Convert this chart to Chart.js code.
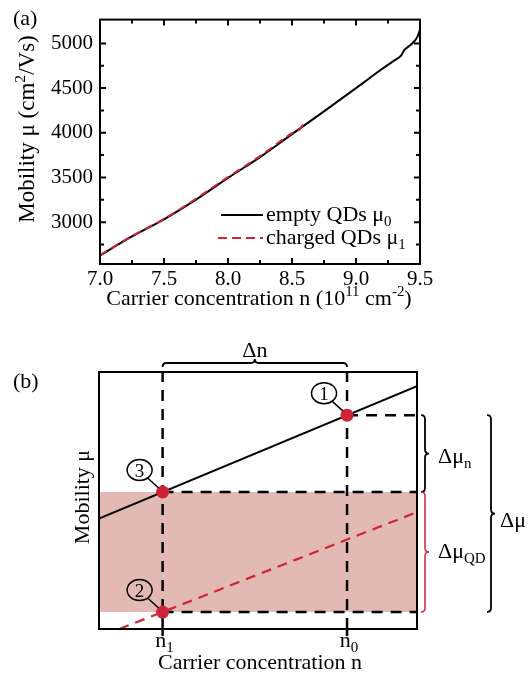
<!DOCTYPE html>
<html>
<head>
<meta charset="utf-8">
<script src="https://cdn.jsdelivr.net/npm/chart.js@4.4.1/dist/chart.umd.min.js"></script>
<style>
html, body { margin: 0; padding: 0; background: #fff; }
#wrap { position: relative; width: 532px; height: 675px; }
canvas { position: absolute; left: 0; }
#chartA { top: 0; }
#chartB { top: 320px; }
</style>
</head>
<body>
<div id="wrap">
  <canvas id="chartA" width="532" height="320"></canvas>
  <canvas id="chartB" width="532" height="355"></canvas>
</div>
<script>
// ---- panel (a) data: mobility vs carrier concentration ----
var nEmpty    = [7.0, 7.25, 7.5, 7.75, 8.0, 8.25, 8.5, 8.75, 9.0, 9.1, 9.2, 9.3, 9.35, 9.38, 9.42, 9.46, 9.48, 9.5];
var muEmpty   = [2628, 2840, 3032, 3252, 3495, 3728, 3985, 4240, 4500, 4605, 4710, 4810, 4860, 4930, 4975, 5030, 5075, 5150];
var nCharged  = [7.0, 7.25, 7.5, 7.75, 8.0, 8.25, 8.5, 8.56, 8.59];
var muCharged = [2632, 2845, 3036, 3262, 3505, 3738, 3995, 4040, 4100];
var xTicksA = [7.0, 7.5, 8.0, 8.5, 9.0, 9.5];
var xMinorA = [7.25, 7.75, 8.25, 8.75, 9.25];
var yTicksA = [3000, 3500, 4000, 4500, 5000];
var yMinorA = [2750, 3250, 3750, 4250, 4750];

// ---- panel (b) data: schematic (arbitrary units 0..10) ----
var nOne = 2.0, nZero = 7.8;
var lineEmptyN   = [0, 10];
var lineEmptyMu  = [4.3, 9.45];
var lineChargedN  = [0.64, 10];
var lineChargedMu = [0, 4.55];
var pointN   = [7.8, 2.0, 2.0];
var pointMu  = [8.32, 0.66, 5.33];
var pointTag = ['1', '2', '3'];

var FAM = '"Liberation Serif", "Times New Roman", serif';
var RED = '#cf2338';

function xy(xs, ys) {
  return xs.map(function (x, i) { return { x: x, y: ys[i] }; });
}

// text with sub/superscripts: parts = [[text, ''|'sub'|'sup'], ...]
function richText(ctx, parts, x, y, size, align) {
  var items = parts.map(function (p) {
    var s = p[1] ? size * 0.68 : size;
    ctx.font = s + 'px ' + FAM;
    return { t: p[0], s: s, dy: p[1] == 'sub' ? size * 0.24 : (p[1] == 'sup' ? -size * 0.4 : 0), w: ctx.measureText(p[0]).width };
  });
  var total = 0;
  items.forEach(function (it) { total += it.w; });
  var cx = align == 'center' ? x - total / 2 : (align == 'right' ? x - total : x);
  ctx.textAlign = 'left';
  ctx.textBaseline = 'alphabetic';
  items.forEach(function (it) {
    ctx.font = it.s + 'px ' + FAM;
    ctx.fillText(it.t, cx, y + it.dy);
    cx += it.w;
  });
}

function braceV(ctx, x, y1, y2, r) {
  var ym = (y1 + y2) / 2;
  ctx.beginPath();
  ctx.moveTo(x - r, y1);
  ctx.quadraticCurveTo(x, y1, x, y1 + r);
  ctx.lineTo(x, ym - r);
  ctx.quadraticCurveTo(x, ym, x + r, ym);
  ctx.quadraticCurveTo(x, ym, x, ym + r);
  ctx.lineTo(x, y2 - r);
  ctx.quadraticCurveTo(x, y2, x - r, y2);
  ctx.stroke();
}

function braceH(ctx, y, x1, x2, r) {
  var xm = (x1 + x2) / 2;
  ctx.beginPath();
  ctx.moveTo(x1, y + r);
  ctx.quadraticCurveTo(x1, y, x1 + r, y);
  ctx.lineTo(xm - r, y);
  ctx.quadraticCurveTo(xm, y, xm, y - r);
  ctx.quadraticCurveTo(xm, y, xm + r, y);
  ctx.lineTo(x2 - r, y);
  ctx.quadraticCurveTo(x2, y, x2, y + r);
  ctx.stroke();
}

// frame, inward ticks, titles and legend for (a)
var decoA = {
  id: 'decoA',
  afterDraw: function (chart) {
    var ctx = chart.ctx, a = chart.chartArea, xs = chart.scales.x, ys = chart.scales.y;
    ctx.save();
    ctx.strokeStyle = '#000';
    ctx.fillStyle = '#000';
    ctx.lineWidth = 2;
    ctx.strokeRect(a.left, a.top, a.right - a.left, a.bottom - a.top);
    ctx.beginPath();
    xTicksA.concat(xMinorA).forEach(function (v, i) {
      var len = i < xTicksA.length ? 6 : 4, px = xs.getPixelForValue(v);
      ctx.moveTo(px, a.bottom); ctx.lineTo(px, a.bottom - len);
      ctx.moveTo(px, a.top); ctx.lineTo(px, a.top + len);
    });
    yTicksA.concat(yMinorA).forEach(function (v, i) {
      var len = i < yTicksA.length ? 6 : 4, py = ys.getPixelForValue(v);
      ctx.moveTo(a.left, py); ctx.lineTo(a.left + len, py);
      ctx.moveTo(a.right, py); ctx.lineTo(a.right - len, py);
    });
    ctx.stroke();

    richText(ctx, [['(a)', '']], 13, 25, 22, 'left');
    richText(ctx, [['Carrier concentration n (10', ''], ['11', 'sup'], [' cm', ''], ['-2', 'sup'], [')', '']], 259, 305, 22, 'center');
    ctx.save();
    ctx.translate(34, 129);
    ctx.rotate(-Math.PI / 2);
    richText(ctx, [['Mobility \u03bc (cm', ''], ['2', 'sup'], ['/Vs)', '']], 0, 0, 23, 'center');
    ctx.restore();

    // legend
    ctx.lineWidth = 2;
    ctx.beginPath(); ctx.moveTo(221, 215); ctx.lineTo(263, 215); ctx.stroke();
    ctx.strokeStyle = RED;
    ctx.setLineDash([9, 5]);
    ctx.beginPath(); ctx.moveTo(218, 238); ctx.lineTo(263, 238); ctx.stroke();
    ctx.setLineDash([]);
    richText(ctx, [['empty QDs \u03bc', ''], ['0', 'sub']], 266, 221, 22, 'left');
    richText(ctx, [['charged QDs \u03bc', ''], ['1', 'sub']], 266, 244, 22, 'left');
    ctx.restore();
  }
};

// frame, guide ticks, braces and labels for (b)
var decoB = {
  id: 'decoB',
  afterDraw: function (chart) {
    var ctx = chart.ctx, a = chart.chartArea, xs = chart.scales.x, ys = chart.scales.y;
    var x1 = xs.getPixelForValue(nOne), x0 = xs.getPixelForValue(nZero);
    ctx.save();
    ctx.strokeStyle = '#000';
    ctx.fillStyle = '#000';
    ctx.lineWidth = 2;
    ctx.strokeRect(a.left, a.top, a.right - a.left, a.bottom - a.top);
    ctx.lineWidth = 2.5;
    ctx.beginPath();
    ctx.moveTo(x1, a.bottom); ctx.lineTo(x1, a.bottom + 7);
    ctx.moveTo(x0, a.bottom); ctx.lineTo(x0, a.bottom + 7);
    ctx.stroke();

    // circled point tags with leaders
    ctx.lineWidth = 1.5;
    pointN.forEach(function (n, i) {
      var px = xs.getPixelForValue(n), py = ys.getPixelForValue(pointMu[i]);
      var cx = px - 23, cy = py - 22;
      ctx.beginPath();
      ctx.ellipse(cx, cy, 12.5, 10.5, 0, 0, Math.PI * 2);
      ctx.stroke();
      ctx.beginPath();
      ctx.moveTo(cx + 8, cy + 8); ctx.lineTo(px - 4, py - 4);
      ctx.stroke();
      richText(ctx, [[pointTag[i], '']], cx, cy + 6.5, 19, 'center');
    });

    // braces
    var yP1 = ys.getPixelForValue(pointMu[0]), yP2 = ys.getPixelForValue(pointMu[1]), yP3 = ys.getPixelForValue(pointMu[2]);
    ctx.lineWidth = 1.8;
    braceH(ctx, a.top - 9, x1, x0, 4);
    richText(ctx, [['\u0394n', '']], (x1 + x0) / 2, a.top - 15, 22, 'center');
    braceV(ctx, a.right + 8, yP1, yP3, 4);
    braceV(ctx, a.right + 74, yP1, yP2, 4);
    ctx.strokeStyle = RED;
    ctx.lineWidth = 1.5;
    braceV(ctx, a.right + 8, yP3, yP2, 4);

    richText(ctx, [['\u0394\u03bc', ''], ['n', 'sub']], a.right + 21, 143, 22, 'left');
    richText(ctx, [['\u0394\u03bc', ''], ['QD', 'sub']], a.right + 21, 238, 22, 'left');
    richText(ctx, [['\u0394\u03bc', '']], a.right + 83, 207, 22, 'left');

    richText(ctx, [['(b)', '']], 13, 68, 22, 'left');
    richText(ctx, [['n', ''], ['1', 'sub']], x1 + 2, 327, 22, 'center');
    richText(ctx, [['n', ''], ['0', 'sub']], x0 + 2, 327, 22, 'center');
    richText(ctx, [['Carrier concentration n', '']], 260, 349, 22, 'center');
    ctx.save();
    ctx.translate(89, 177);
    ctx.rotate(-Math.PI / 2);
    richText(ctx, [['Mobility \u03bc', '']], 0, 0, 22, 'center');
    ctx.restore();
    ctx.restore();
  }
};

var tickFont = { family: FAM, size: 21 };

new Chart(document.getElementById('chartA'), {
  type: 'line',
  data: {
    datasets: [
      { label: 'empty QDs', data: xy(nEmpty, muEmpty), borderColor: '#000', borderWidth: 2,
        pointRadius: 0, cubicInterpolationMode: 'monotone', order: 2 },
      { label: 'charged QDs', data: xy(nCharged, muCharged), borderColor: RED, borderWidth: 2,
        borderDash: [8, 5], pointRadius: 0, cubicInterpolationMode: 'monotone', order: 1 }
    ]
  },
  options: {
    responsive: false,
    animation: false,
    events: [],
    layout: { padding: { left: 0, top: 7, right: 112, bottom: 0 } },
    plugins: { legend: { display: false }, tooltip: { enabled: false } },
    scales: {
      x: {
        type: 'linear', min: 7, max: 9.5,
        afterBuildTicks: function (s) { s.ticks = xTicksA.map(function (v) { return { value: v }; }); },
        afterFit: function (s) { s.height = 56; },
        grid: { display: false, drawTicks: false },
        border: { display: false },
        ticks: { font: tickFont, color: '#000', padding: 3, maxRotation: 0, autoSkip: false,
                 callback: function (v) { return Number(v).toFixed(1); } }
      },
      y: {
        type: 'linear', min: 2532, max: 5266,
        afterBuildTicks: function (s) { s.ticks = yTicksA.map(function (v) { return { value: v }; }); },
        afterFit: function (s) { s.width = 100; },
        grid: { display: false, drawTicks: false },
        border: { display: false },
        ticks: { font: tickFont, color: '#000', padding: 7,
                 callback: function (v) { return String(v); } }
      }
    }
  },
  plugins: [decoA]
});

var dashB = [11, 8];
new Chart(document.getElementById('chartB'), {
  type: 'line',
  data: {
    datasets: [
      { data: xy([0, 10], [pointMu[2], pointMu[2]]), borderWidth: 0, pointRadius: 0,
        fill: '+1', backgroundColor: '#e2bab3', order: 9 },
      { data: xy([0, 10], [pointMu[1], pointMu[1]]), borderWidth: 0, pointRadius: 0, order: 9 },
      { data: xy(lineEmptyN, lineEmptyMu), borderColor: '#000', borderWidth: 2, pointRadius: 0, order: 5 },
      { data: xy(lineChargedN, lineChargedMu), borderColor: RED, borderWidth: 2.2, borderDash: [10, 7], pointRadius: 0, order: 5 },
      { data: xy([nOne, nOne], [0, 10]), borderColor: '#000', borderWidth: 2.5, borderDash: dashB, pointRadius: 0, order: 4 },
      { data: xy([nZero, nZero], [0, 10]), borderColor: '#000', borderWidth: 2.5, borderDash: dashB, pointRadius: 0, order: 4 },
      { data: xy([nOne, 10], [pointMu[2], pointMu[2]]), borderColor: '#000', borderWidth: 2.5, borderDash: dashB, pointRadius: 0, order: 4 },
      { data: xy([nOne, 10], [pointMu[1], pointMu[1]]), borderColor: '#000', borderWidth: 2.5, borderDash: dashB, pointRadius: 0, order: 4 },
      { data: xy([nZero, 10], [pointMu[0], pointMu[0]]), borderColor: '#000', borderWidth: 2.5, borderDash: dashB, pointRadius: 0, order: 4 },
      { data: xy(pointN, pointMu), showLine: false, pointRadius: 6.5, pointBackgroundColor: RED,
        pointBorderWidth: 0, order: 1 }
    ]
  },
  options: {
    responsive: false,
    animation: false,
    events: [],
    layout: { padding: { left: 0, top: 52, right: 115, bottom: 0 } },
    plugins: { legend: { display: false }, tooltip: { enabled: false } },
    scales: {
      x: {
        type: 'linear', min: 0, max: 10,
        afterFit: function (s) { s.height = 46; },
        grid: { display: false, drawTicks: false },
        border: { display: false },
        ticks: { display: false }
      },
      y: {
        type: 'linear', min: 0, max: 10,
        afterFit: function (s) { s.width = 99; },
        grid: { display: false, drawTicks: false },
        border: { display: false },
        ticks: { display: false }
      }
    }
  },
  plugins: [decoB]
});
</script>
</body>
</html>
